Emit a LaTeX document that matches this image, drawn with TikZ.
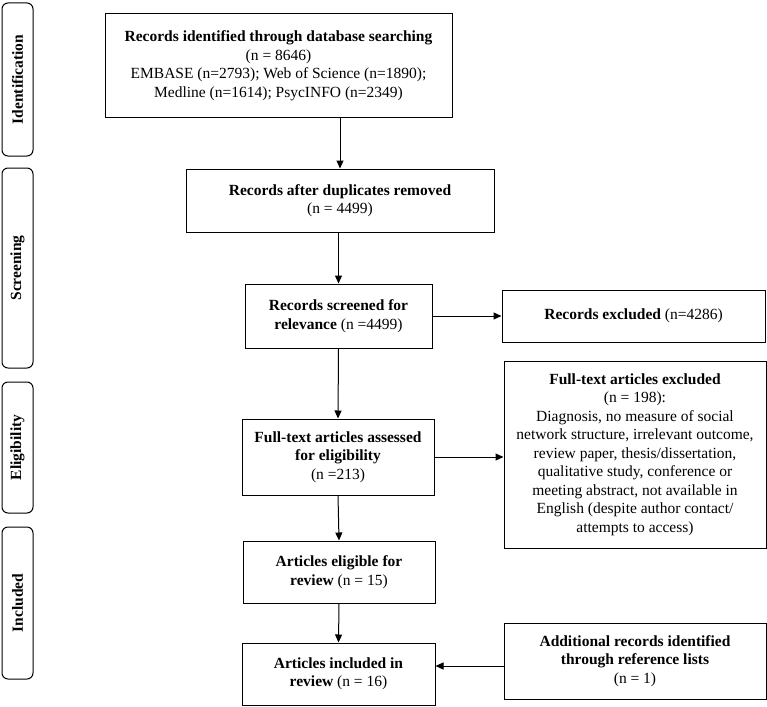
\documentclass[tikz,border=0pt]{standalone}
\usepackage{fontspec}
\setmainfont{Liberation Serif}
\usetikzlibrary{arrows.meta}
\tikzset{
  stagebox/.style={draw, line width=1pt, align=center, inner sep=2pt},
  phasebox/.style={draw, line width=1pt, rounded corners=6pt, rotate=90,
    font=\fontsize{15.5}{18}\selectfont\bfseries, minimum height=31pt},
  flow/.style={line width=1pt, -{Triangle[length=8pt, width=7pt]}}
}
\tikzset{every node/.append style={font=\fontsize{15.5}{18.5}\selectfont}}

\begin{document}
\begin{tikzpicture}[x=1pt, y=-1pt]
  \useasboundingbox (0,0) rectangle (767,706);

  \node[phasebox, minimum width=153pt] (identphase) at (17.5,79.5) {Identification};
  \node[phasebox, minimum width=200pt] (screenphase) at (17.5,268) {Screening};
  \node[phasebox, minimum width=131pt] (eligphase) at (17.5,447.5) {Eligibility};
  \node[phasebox, minimum width=152pt] (inclphase) at (17.5,603) {Included};

  \node[stagebox, minimum width=347pt, minimum height=103pt] (identified) at (278.5,65.5)
    {\textbf{Records identified through database searching}\\(n = 8646)\\
     EMBASE (n=2793); Web of Science (n=1890);\\Medline (n=1614); PsycINFO (n=2349)};
  \node[stagebox, minimum width=308pt, minimum height=63pt] (deduplicated) at (340,200.5)
    {\textbf{Records after duplicates removed}\\(n = 4499)};
  \node[stagebox, minimum width=187pt, minimum height=64pt] (screened) at (338.5,316)
    {\textbf{Records screened for}\\\textbf{relevance} (n =4499)};
  \node[stagebox, minimum width=263pt, minimum height=52pt] (excluded) at (633.5,316)
    {\textbf{Records excluded} (n=4286)};
  \node[stagebox, minimum width=192pt, minimum height=76pt] (assessed) at (338,457)
    {\textbf{Full-text articles assessed}\\\textbf{for eligibility}\\(n =213)};
  \node[stagebox, minimum width=262pt, minimum height=187pt] (ftexcluded) at (635,454.5)
    {\textbf{Full-text articles excluded}\\(n = 198):\\Diagnosis, no measure of social\\
     network structure, irrelevant outcome,\\review paper, thesis/dissertation,\\
     qualitative study, conference or\\meeting abstract, not available in\\
     English (despite author contact/\\attempts to access)};
  \node[stagebox, minimum width=192pt, minimum height=62pt] (eligible) at (339,572)
    {\textbf{Articles eligible for}\\\textbf{review} (n = 15)};
  \node[stagebox, minimum width=193pt, minimum height=62pt] (included) at (338.5,674)
    {\textbf{Articles included in}\\\textbf{review} (n = 16)};
  \node[stagebox, minimum width=262pt, minimum height=76pt] (additional) at (635,661)
    {\textbf{Additional records identified}\\\textbf{through reference lists}\\(n = 1)};

  \draw[flow] (identified.south -| deduplicated.north) -- (deduplicated.north);
  \draw[flow] (deduplicated.south -| screened.north) -- (screened.north);
  \draw[flow] (screened.east) -- (excluded.west);
  \draw[flow] (screened.south) -- (assessed.north);
  \draw[flow] (assessed.east) -- (assessed.east -| ftexcluded.west);
  \draw[flow] (assessed.south) -- (eligible.north);
  \draw[flow] (eligible.south) -- (included.north);
  \draw[flow] ([yshift=-5pt]additional.west) -- ([yshift=-5pt]additional.west -| included.east);
\end{tikzpicture}
\end{document}
